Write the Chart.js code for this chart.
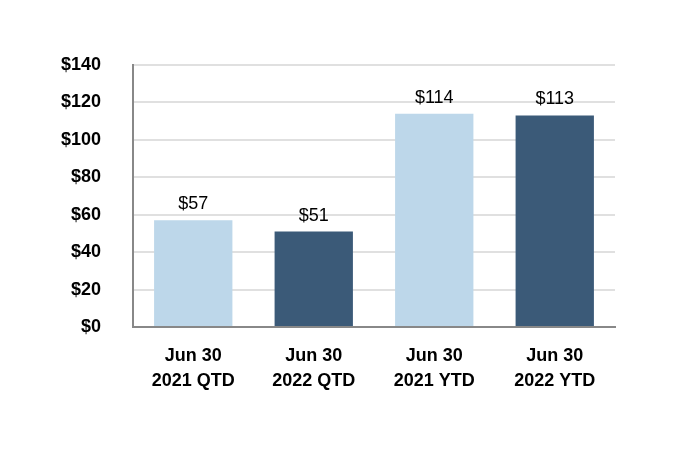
<!DOCTYPE html>
<html>
<head>
<meta charset="utf-8">
<script src="https://cdn.jsdelivr.net/npm/chart.js@4"></script>
<style>
  html, body { margin: 0; padding: 0; background: #fff; }
  #wrap { width: 680px; height: 450px; }
</style>
</head>
<body>
<div id="wrap"><canvas id="barChart" width="680" height="450"></canvas></div>
<script>
'use strict';

var periods = [['Jun 30', '2021 QTD'], ['Jun 30', '2022 QTD'], ['Jun 30', '2021 YTD'], ['Jun 30', '2022 YTD']];
var amounts = [57, 51, 114, 113];
var barColors = ['#BDD7EA', '#3B5A78', '#BDD7EA', '#3B5A78'];

// value labels over bars
var valueLabels = {
    id: 'valueLabels',
    afterDatasetsDraw: function (chart) {
        var ctx = chart.ctx;
        var meta = chart.getDatasetMeta(0);
        ctx.save();
        ctx.font = '18px "Liberation Sans", Arial, sans-serif';
        ctx.fillStyle = '#000';
        ctx.textAlign = 'center';
        ctx.textBaseline = 'bottom';
        meta.data.forEach(function (bar, i) {
            ctx.fillText('$' + amounts[i], bar.x, bar.y - 7);
        });
        ctx.restore();
    }
};

var ctx = document.getElementById('barChart').getContext('2d');
var chart = new Chart(ctx, {
    type: 'bar',
    data: {
        labels: periods,
        datasets: [{
            data: amounts,
            backgroundColor: barColors,
            borderWidth: 0,
            categoryPercentage: 1,
            barPercentage: 0.65
        }]
    },
    options: {
        responsive: false,
        animation: false,
        layout: { padding: { top: 65, right: 65, bottom: 0, left: 0 } },
        plugins: { legend: { display: false }, tooltip: { enabled: false } },
        scales: {
            x: {
                grid: { display: false, drawTicks: false },
                border: { color: '#888', width: 2 },
                ticks: {
                    color: '#000',
                    padding: 17,
                    font: { family: '"Liberation Sans", Arial, sans-serif', size: 18, weight: 'bold', lineHeight: 1.39 }
                },
                afterFit: function (scale) { scale.height = 123; }
            },
            y: {
                min: 0,
                max: 140,
                grid: { color: '#e0e0e0', lineWidth: 2, drawTicks: false },
                border: { color: '#888', width: 2 },
                ticks: {
                    stepSize: 20,
                    color: '#000',
                    padding: 32,
                    font: { family: '"Liberation Sans", Arial, sans-serif', size: 18, weight: 'bold' },
                    callback: function (v) { return '$' + v; }
                },
                afterFit: function (scale) { scale.width = 133; }
            }
        }
    },
    plugins: [valueLabels]
});
</script>
</body>
</html>
